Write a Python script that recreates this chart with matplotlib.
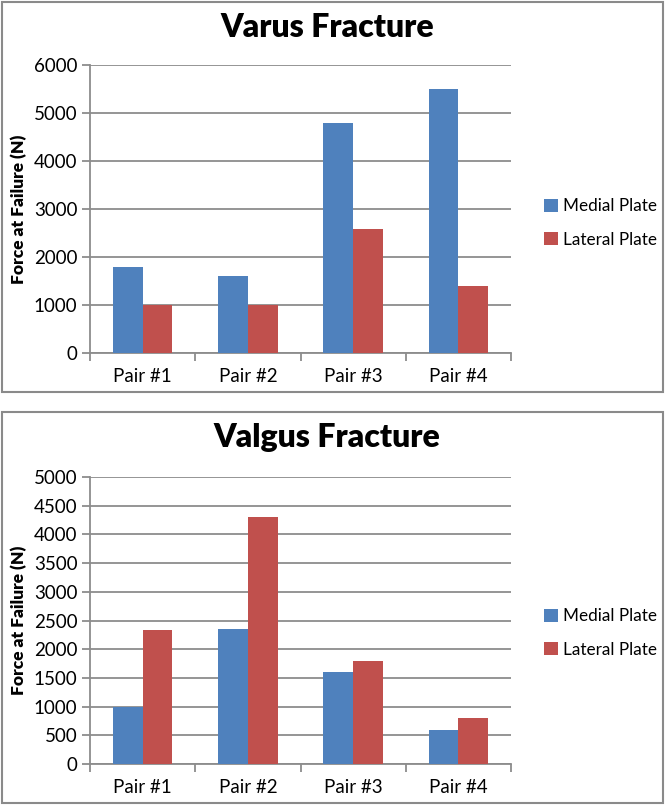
import matplotlib
matplotlib.use("Agg")
import matplotlib.pyplot as plt
from matplotlib.patches import Rectangle
import numpy as np

plt.rcParams['font.family'] = ['Lato', 'DejaVu Sans']

categories = ["Pair #1", "Pair #2", "Pair #3", "Pair #4"]
series_names = ["Medial Plate", "Lateral Plate"]
colors = ["#4F81BD", "#C0504D"]

varus_medial = [1800, 1600, 4800, 5500]
varus_lateral = [1000, 1000, 2590, 1400]
varus_ticks = [0, 1000, 2000, 3000, 4000, 5000, 6000]

valgus_medial = [1000, 2360, 1600, 600]
valgus_lateral = [2330, 4300, 1800, 800]
valgus_ticks = [0, 500, 1000, 1500, 2000, 2500, 3000, 3500, 4000, 4500, 5000]

W, H = 666, 807
fig = plt.figure(figsize=(W / 100, H / 100), dpi=100)
fig.patch.set_facecolor("white")

grid_c = "#8c8c8c"

def px_rect(x0, y0, x1, y1):
    return [x0 / W, 1 - y1 / H, (x1 - x0) / W, (y1 - y0) / H]

def panel(frame, axrect, title, title_y, medial, lateral, ticks, legend_y):
    fx0, fy0, fx1, fy1 = frame
    fig.add_artist(Rectangle((fx0 / W, 1 - fy1 / H), (fx1 - fx0) / W, (fy1 - fy0) / H,
                             transform=fig.transFigure, fill=False,
                             edgecolor="#8a8a8a", linewidth=1.5))
    ax = fig.add_axes(px_rect(*axrect))
    x = np.arange(len(categories))
    bw = 0.282
    b1 = ax.bar(x - bw / 2, medial, bw, color=colors[0], label=series_names[0], zorder=3)
    b2 = ax.bar(x + bw / 2, lateral, bw, color=colors[1], label=series_names[1], zorder=3)
    ax.set_xlim(-0.5, len(categories) - 0.5)
    ax.set_ylim(ticks[0], ticks[-1])
    ax.set_yticks(ticks)
    ax.set_yticklabels([str(t) for t in ticks], fontsize=13.5)
    ax.yaxis.grid(True, color=grid_c, linewidth=1.3, zorder=0)
    ax.set_axisbelow(True)
    ax.set_xticks(x)
    ax.set_xticklabels(categories, fontsize=13.5)
    ax.set_xticks(np.arange(len(categories) + 1) - 0.5, minor=True)
    ax.tick_params(axis='x', which='major', length=0, pad=11)
    ax.tick_params(axis='x', which='minor', length=6, width=1.3, color=grid_c)
    ax.tick_params(axis='y', length=6, width=1.3, color=grid_c, pad=3)
    for s in ["top", "right"]:
        ax.spines[s].set_visible(False)
    for s in ["left", "bottom"]:
        ax.spines[s].set_color(grid_c)
        ax.spines[s].set_linewidth(1.3)
    ax.set_ylabel("Force at Failure (N)", fontsize=12.5, fontweight="heavy", labelpad=5)
    fig.text(327 / W, 1 - title_y / H, title, ha="center", va="baseline",
             fontsize=23, fontweight="heavy")
    fig.legend(handles=[b1, b2], labels=series_names, loc="center left",
               bbox_to_anchor=(537 / W, 1 - legend_y / H), frameon=False,
               fontsize=12.3, handlelength=0.8, handleheight=0.8,
               handletextpad=0.3, labelspacing=1.0, borderaxespad=0)
    return ax

panel((2, 2, 663, 392), (90, 65, 511, 353), "Varus Fracture", 37,
      varus_medial, varus_lateral, varus_ticks, 223)
panel((2, 412, 663, 803), (90, 477, 511, 764), "Valgus Fracture", 447,
      valgus_medial, valgus_lateral, valgus_ticks, 633)

fig.savefig("out.png", dpi=100, facecolor="white")
